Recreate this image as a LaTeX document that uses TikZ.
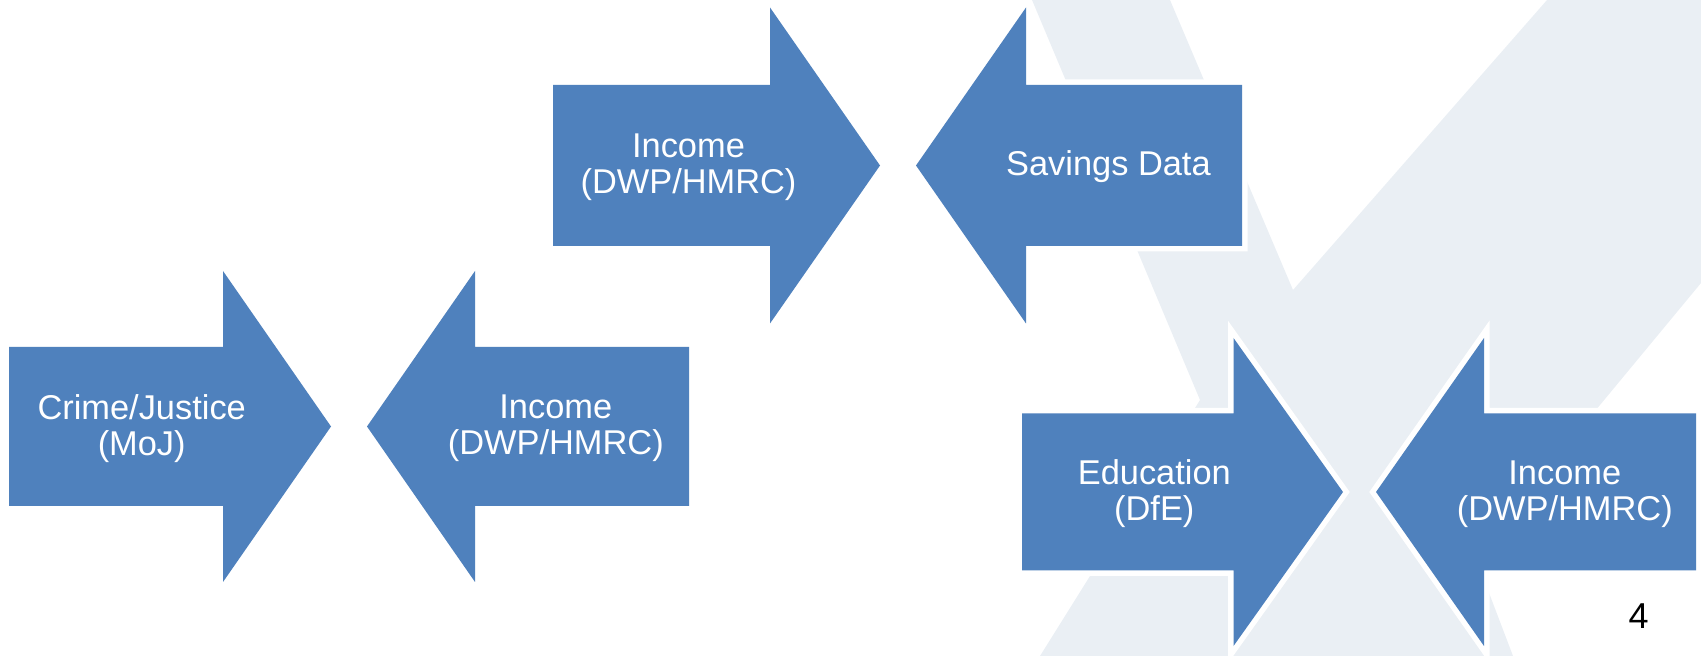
\documentclass[tikz,border=0pt]{standalone}
\usepackage{fontspec}
\setmainfont{Liberation Sans}
\definecolor{arrowblue}{HTML}{4F81BD}
\definecolor{markgrey}{HTML}{EAEFF4}
\tikzset{
	arrowtext/.style={text=white, align=center, inner sep=0pt, font=\fontsize{17.2}{18}\selectfont},
}
\begin{document}
\begin{tikzpicture}[x=0.5pt,y=-0.5pt]
\useasboundingbox (0,0) rectangle (1701,656);
% faint logo behind the arrows
\fill[markgrey] (1032,0) -- (1170,0) -- (1293,290) -- (1547,0) -- (1701,0) -- (1701,283)
	-- (1475,556) -- (1513,656) -- (1040,656) -- (1200,400) -- cycle;
% back end / shaft end / tip / middle / half shaft / half head
\foreach \b/\s/\t/\m/\r/\h in {553/770/880/165.5/80.5/158, 1242/1026/916/165.5/80.5/158,
	9/223/331/426.5/79.5/155.5, 689/475/367/426.5/79.5/155.5,
	1022/1233.5/1343/492/78.5/154, 1696/1484/1376/492/78.5/154} {
	\path[fill=arrowblue, preaction={draw=white, line width=5.5pt}]
		(\b,\m-\r) -- (\s,\m-\r) -- (\s,\m-\h) -- (\t,\m) -- (\s,\m+\h) -- (\s,\m+\r) -- (\b,\m+\r) -- cycle;
}
\node[arrowtext] (incomeTop) at (688.5,167.5) {Income\\(DWP/HMRC)};
\node[arrowtext] (savings) at (1108.4,167) {Savings Data};
\node[arrowtext] (crime) at (141.7,428.5) {Crime/Justice\\(MoJ)};
\node[arrowtext] (incomeLeft) at (555.8,428.5) {Income\\(DWP/HMRC)};
\node[arrowtext] (education) at (1154.3,494) {Education\\(DfE)};
\node[arrowtext] (incomeRight) at (1564.8,494) {Income\\(DWP/HMRC)};
\node[font=\fontsize{18}{18}\selectfont, anchor=base] (pagenum) at (1638.5,629) {4};
\end{tikzpicture}
\end{document}
